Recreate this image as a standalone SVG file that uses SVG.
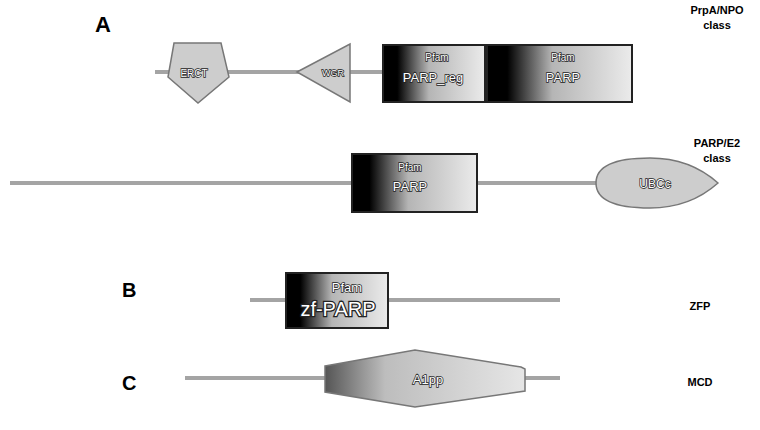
<svg xmlns="http://www.w3.org/2000/svg" width="760" height="430" viewBox="0 0 760 430">
<defs>
<style>
.ln{stroke:#a4a4a4;stroke-width:4;fill:none}
.lbl{font-family:"Liberation Sans",Arial,sans-serif;font-weight:bold;fill:#000}
.cls{font-family:"Liberation Sans",Arial,sans-serif;font-weight:bold;font-size:11px;fill:#000;text-anchor:middle}
.dom{font-family:"Liberation Sans",Arial,sans-serif;fill:#fff;stroke:#222;stroke-width:1.5px;paint-order:stroke;text-anchor:middle}
.shape{fill:#cdcdcd;stroke:#777;stroke-width:1.5}
.box{stroke:#222;stroke-width:2}
</style>
<linearGradient id="g" x1="0" y1="0" x2="1" y2="0">
<stop offset="0" stop-color="#000"/>
<stop offset="0.14" stop-color="#000"/>
<stop offset="0.45" stop-color="#b5b5b5"/>
<stop offset="1" stop-color="#ebebeb"/>
</linearGradient>
<linearGradient id="gh" x1="0" y1="0" x2="1" y2="0">
<stop offset="0" stop-color="#555"/>
<stop offset="0.3" stop-color="#bdbdbd"/>
<stop offset="1" stop-color="#e6e6e6"/>
</linearGradient>
</defs>
<g id="connectors">
<line class="ln" x1="155" y1="72" x2="382" y2="72"/>
<line class="ln" x1="10" y1="183" x2="600" y2="183"/>
<line class="ln" x1="250" y1="300" x2="560" y2="300"/>
<line class="ln" x1="185" y1="378" x2="560" y2="378"/>
</g>
<g id="label-A"><text class="lbl" x="95" y="32" style="font-size:22px">A</text></g>
<g id="label-B"><text class="lbl" x="122" y="297" style="font-size:20px">B</text></g>
<g id="label-C"><text class="lbl" x="122" y="390" style="font-size:20px">C</text></g>
<g id="class-prpa">
<text class="cls" x="717" y="14">PrpA/NPO</text>
<text class="cls" x="717" y="29">class</text>
</g>
<g id="class-parp">
<text class="cls" x="717" y="147">PARP/E2</text>
<text class="cls" x="717" y="162">class</text>
</g>
<g id="class-zfp"><text class="cls" x="700" y="310">ZFP</text></g>
<g id="class-mcd"><text class="cls" x="700" y="386">MCD</text></g>
<g id="ERCT">
<polygon class="shape" points="174,43 221,43 229,77 198,103 168,77"/>
<text class="dom" x="194" y="77" style="font-size:10px">ERCT</text>
</g>
<g id="WGR">
<polygon class="shape" points="297,72 350,44 350,102"/>
<text class="dom" x="333" y="76" style="font-size:9px">WGR</text>
</g>
<g id="PARP_reg">
<rect class="box" x="383" y="45" width="102" height="57" fill="url(#g)"/>
<text class="dom" x="437" y="61" style="font-size:10px">Pfam</text>
<text class="dom" x="433" y="82" style="font-size:13px">PARP_reg</text>
</g>
<g id="PARP-A">
<rect class="box" x="487" y="45" width="145" height="57" fill="url(#g)"/>
<text class="dom" x="563" y="61" style="font-size:10px">Pfam</text>
<text class="dom" x="563" y="82" style="font-size:13px">PARP</text>
</g>
<g id="PARP-E2">
<rect class="box" x="352" y="154" width="125" height="58" fill="url(#g)"/>
<text class="dom" x="410" y="171" style="font-size:10px">Pfam</text>
<text class="dom" x="410" y="191" style="font-size:13px">PARP</text>
</g>
<g id="UBCc">
<path class="shape" d="M718,183 Q690,158 650,158 Q596,158 596,183 Q596,208 650,208 Q690,208 718,183 Z"/>
<text class="dom" x="655" y="188" style="font-size:12px">UBCc</text>
</g>
<g id="zf-PARP">
<rect class="box" x="286" y="273" width="102" height="55" fill="url(#g)"/>
<text class="dom" x="347" y="292" style="font-size:13px">Pfam</text>
<text class="dom" x="338" y="316" style="font-size:20px;stroke-width:2.5px">zf-PARP</text>
</g>
<g id="A1pp">
<polygon points="325,366 415,350 521,367 525,369 525,391 415,407 325,392" fill="url(#gh)" stroke="#777" stroke-width="1.5"/>
<text class="dom" x="428" y="384" style="font-size:13px">A1pp</text>
</g>
</svg>
